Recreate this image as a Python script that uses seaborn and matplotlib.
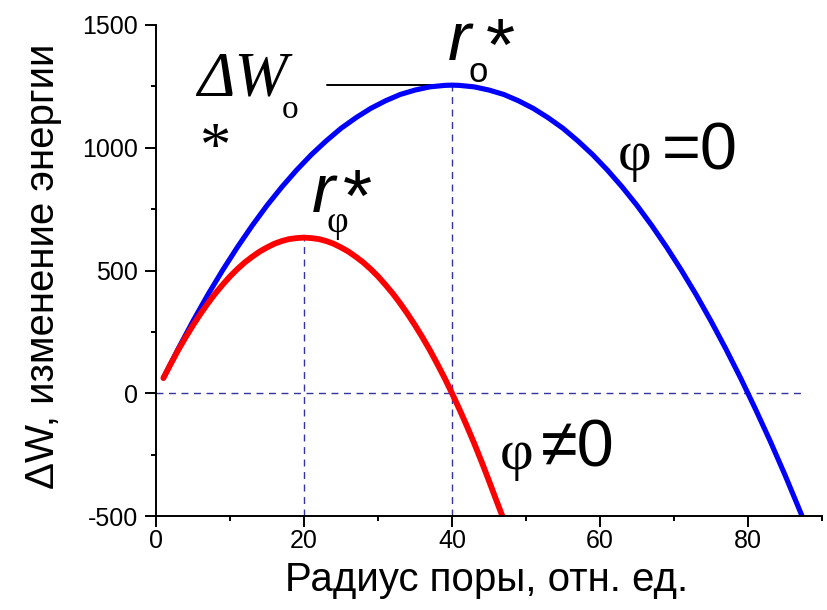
import matplotlib
matplotlib.use("Agg")
import matplotlib.pyplot as plt
import pandas as pd
import seaborn as sns

# Pore radius (relative units) and energy change, phi = 0
r_phi0 = [1, 3, 5, 7, 9, 11, 13, 15, 17, 19, 21, 23, 25, 27, 29, 31, 33, 35,
          37, 39, 40, 41, 43, 45, 47, 49, 51, 53, 55, 57, 59, 61, 63, 65, 67,
          69, 71, 73, 75, 77, 79, 81, 83, 85, 87, 87.3]
dw_phi0 = [62, 181, 294, 401, 501, 595, 683, 765, 840, 909, 972, 1028, 1079,
           1122, 1160, 1191, 1217, 1235, 1248, 1254, 1255, 1254, 1248, 1235,
           1217, 1191, 1160, 1122, 1079, 1028, 972, 909, 840, 765, 683, 595,
           501, 401, 294, 181, 62, -64, -195, -333, -478, -500]

# Pore radius and energy change, phi != 0
r_phi1 = [1, 2, 3, 4, 5, 6, 7, 8, 9, 10, 11, 12, 13, 14, 15, 16, 17, 18, 19,
          20, 21, 22, 23, 24, 25, 26, 27, 28, 29, 30, 31, 32, 33, 34, 35, 36,
          37, 38, 39, 40, 41, 42, 43, 44, 45, 46, 46.8]
dw_phi1 = [62, 120, 176, 228, 277, 323, 366, 406, 442, 476, 506, 533, 556,
           577, 594, 609, 620, 628, 632, 634, 632, 628, 620, 609, 594, 577, 556,
           533, 506, 476, 442, 406, 366, 323, 277, 228, 176, 120, 62, 0, -65,
           -133, -204, -279, -357, -437, -500]

# Critical radii and barrier height
r_crit_0 = 40
r_crit_phi = 20
dw_crit_0 = 1255
dw_crit_phi = 634
r_zero_line_end = 87.3

x_ticks = [0, 20, 40, 60, 80]
y_ticks = [-500, 0, 500, 1000, 1500]

sns.set_theme(style="ticks")
plt.rcParams["font.family"] = ["Liberation Sans", "DejaVu Sans"]
plt.rcParams["axes.unicode_minus"] = False

fig = plt.figure(figsize=(8.27, 6.10), dpi=100)
ax = fig.add_axes([156 / 827, 1 - 516 / 610, 666 / 827, 491 / 610])

df0 = pd.DataFrame({"r": r_phi0, "dw": dw_phi0})
df1 = pd.DataFrame({"r": r_phi1, "dw": dw_phi1})
sns.lineplot(data=df0, x="r", y="dw", ax=ax, color="#0000ff", lw=3.7,
             solid_capstyle="round", solid_joinstyle="round", sort=False, estimator=None)
sns.lineplot(data=df1, x="r", y="dw", ax=ax, color="#ff0000", lw=4.2,
             solid_capstyle="round", solid_joinstyle="round", sort=False, estimator=None)

# Guide lines
dash_color = "#3434a0"
ax.plot([0, r_zero_line_end], [0, 0], ls=(0, (5, 4)), color=dash_color, lw=1.0, zorder=1)
ax.plot([r_crit_phi, r_crit_phi], [-500, dw_crit_phi], ls=(0, (5, 4)), color=dash_color, lw=1.0, zorder=1)
ax.plot([r_crit_0, r_crit_0], [-500, dw_crit_0], ls=(0, (5, 4)), color=dash_color, lw=1.0, zorder=1)
ax.plot([23.1, r_crit_0], [dw_crit_0, dw_crit_0], color="black", lw=1.4, zorder=1)

ax.set_xlim(0, 90)
ax.set_ylim(-500, 1500)
ax.set_xticks(x_ticks)
ax.set_yticks(y_ticks)
ax.set_xticks([10, 30, 50, 70, 90], minor=True)
ax.set_yticks([-250, 250, 750, 1250], minor=True)
ax.tick_params(axis="both", which="major", direction="out", length=8, width=1.4,
               labelsize=18, color="black", labelcolor="black")
ax.tick_params(axis="both", which="minor", direction="out", length=3.6, width=1.4,
               color="black")
ax.tick_params(axis="x", which="major", pad=1)
ax.tick_params(axis="y", which="major", pad=5)
for side in ["top", "right"]:
    ax.spines[side].set_visible(False)
for side in ["left", "bottom"]:
    ax.spines[side].set_color("black")
    ax.spines[side].set_linewidth(1.4)
ax.grid(False)

ax.set_xlabel("Радиус поры, отн. ед.", fontsize=29, color="black")
ax.set_ylabel("ΔW, изменение энергии", fontsize=29, color="black")
ax.xaxis.set_label_coords(0.497, -0.0915)
ax.yaxis.set_label_coords(-0.141, 0.509)

serif = ["Liberation Serif", "DejaVu Serif"]
sans = ["Liberation Sans", "DejaVu Sans"]

# Barrier height label
ax.text(5.5, 1211, "ΔW", fontsize=46, family=serif, style="italic",
        va="baseline", ha="left", color="black")
ax.text(17.0, 1121, "o", fontsize=24, family=serif, va="baseline", ha="left", color="black")
ax.text(8.1, 926, "*", fontsize=45, family=serif, va="baseline", ha="center", color="black")

# Critical radius, phi = 0
ax.text(39.46, 1358, "r", fontsize=50, family=sans, style="italic",
        va="baseline", ha="left", color="black", clip_on=False)
ax.text(44.6, 1318, "*", fontsize=54, family=sans, va="baseline", ha="left",
        color="black", clip_on=False)
ax.text(42.2, 1268, "o", fontsize=25, family=sans, va="baseline", ha="left", color="black")

# Critical radius, phi != 0
ax.text(21.1, 738, "r", fontsize=50, family=sans, style="italic",
        va="baseline", ha="left", color="black")
ax.text(25.2, 700, "*", fontsize=54, family=sans, va="baseline", ha="left", color="black")
ax.text(23.1, 657, "φ", fontsize=27, family=serif, va="baseline", ha="left", color="black")

# Curve labels
ax.text(62.4, 910, "φ", fontsize=42, family=serif, va="baseline", ha="left", color="black")
ax.text(68.3, 910, "=0", fontsize=48, family=sans, va="baseline", ha="left", color="black")
ax.text(46.5, -309, "φ", fontsize=42, family=serif, va="baseline", ha="left", color="black")
ax.text(52.0, -299, "≠0", fontsize=48, family=sans, va="baseline", ha="left", color="black")

fig.savefig("out.png", dpi=100, facecolor="white")
